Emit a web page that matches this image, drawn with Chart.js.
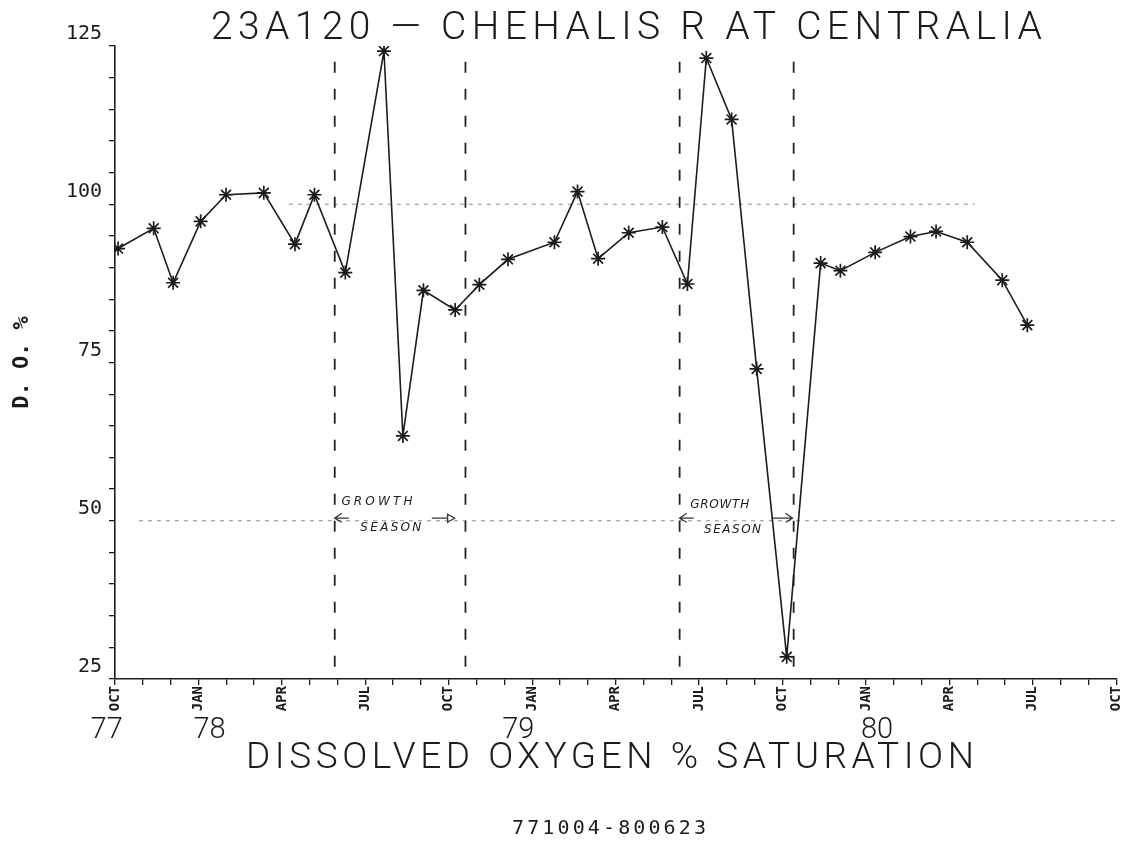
<!DOCTYPE html>
<html>
<head>
<meta charset="utf-8">
<script src="https://cdn.jsdelivr.net/npm/chart.js@4.4.1/dist/chart.umd.min.js"></script>
<style>
  html, body { margin: 0; padding: 0; background: #ffffff; }
  #wrap { width: 1125px; height: 844px; position: relative; }
</style>
</head>
<body>
<div id="wrap"><canvas id="c"></canvas></div>
<script>
// ---------- texts ----------
const chartTitle = '23A120 — CHEHALIS R AT CENTRALIA';
const xAxisTitle = 'DISSOLVED OXYGEN % SATURATION';
const yAxisTitle = 'D. O. %';
const periodCode = '771004-800623';

// ---------- data (x = months after 1 Oct 1977) ----------
const sampleMonth = [0.11, 1.39, 2.09, 3.08, 3.99, 5.35, 6.47, 7.17, 8.28, 9.67,
                     10.35, 11.09, 12.23, 13.10, 14.13, 15.80, 16.63, 17.37, 18.47, 19.68,
                     20.58, 21.26, 22.17, 23.07, 24.15, 25.37, 26.08, 27.33, 28.60, 29.52,
                     30.64, 31.90, 32.80];
const doPercent   = [93.0, 96.2, 87.6, 97.3, 101.5, 101.8, 93.7, 101.5, 89.2, 124.2,
                     63.4, 86.4, 83.3, 87.3, 91.3, 94.0, 102.0, 91.4, 95.5, 96.4,
                     87.4, 123.1, 113.4, 74.0, 28.5, 90.7, 89.5, 92.4, 94.9, 95.7,
                     94.0, 88.0, 80.9];

// ---------- tick labels ----------
const monthTickLabels = ['OCT', 'JAN', 'APR', 'JUL'];      // every third month from Oct 1977
const yearLabels      = ['77', '78', '79', '80'];
const yearLabelMonth  = [-0.3, 3.4, 14.5, 27.4];
const yTickLabels     = [25, 50, 75, 100, 125];

// ---------- reference marks ----------
const growthSeasonBounds = [7.9, 12.6, 20.3, 24.4];          // dashed verticals (months)
const growthLabelWords   = ['GROWTH', 'SEASON'];
const refLevels          = [100, 50];                        // faint dotted levels
const refLevelFrom       = [6.25, 0.86];
const refLevelTo         = [30.9, 36];

const INK = '#1c1c1c';

// ---------- datasets ----------
const seriesPoints = sampleMonth.map((m, i) => ({ x: m, y: doPercent[i] }));

const datasets = [{
  label: 'D.O. % saturation',
  data: seriesPoints,
  borderColor: INK,
  backgroundColor: INK,
  borderWidth: 1.6,
  pointStyle: 'star',
  pointRadius: 7,
  pointBorderWidth: 1.7,
  pointBorderColor: INK,
  tension: 0,
  order: 0
}];

growthSeasonBounds.forEach((m) => {
  datasets.push({
    label: 'season bound',
    data: [{ x: m, y: 122.5 }, { x: m, y: 25 }],
    borderColor: '#222',
    borderWidth: 1.8,
    borderDash: [11, 16],
    pointRadius: 0,
    order: 2
  });
});

refLevels.forEach((lv, i) => {
  datasets.push({
    label: 'level ' + lv,
    data: [{ x: refLevelFrom[i], y: lv }, { x: refLevelTo[i], y: lv }],
    borderColor: '#8a8a8a',
    borderWidth: 1,
    borderDash: [4, 5],
    pointRadius: 0,
    order: 3
  });
});

// ---------- decoration plugin: plotter lettering and hand annotations ----------
const decor = {
  id: 'decor',
  afterDraw(chart) {
    const ctx = chart.ctx;
    const xs = chart.scales.x, ys = chart.scales.y;

    const spaced = (text, font, left, width, midY) => {
      ctx.save();
      ctx.font = font;
      ctx.letterSpacing = '0px';
      const w = ctx.measureText(text).width;
      const n = Array.from(text).length;
      const sp = Math.max(0, (width - w) / (n - 1));
      ctx.letterSpacing = sp.toFixed(2) + 'px';
      ctx.textAlign = 'left';
      ctx.textBaseline = 'middle';
      ctx.fillStyle = INK;
      ctx.fillText(text, left, midY);
      ctx.restore();
    };

    spaced(chartTitle, '300 39px Roboto', 211, 831, 29);
    spaced(xAxisTitle, '300 37px Roboto', 246, 728, 759);
    spaced(periodCode, '20px "DejaVu Sans Mono"', 512, 194, 829);

    // growth season hand labels (data coordinates)
    const notes = [
      { m: 8.14, v: 53.0, w: 71, word: 0 },
      { m: 8.82, v: 48.9, w: 61, word: 1 },
      { m: 20.68, v: 52.5, w: 59, word: 0 },
      { m: 21.18, v: 48.5, w: 57, word: 1 }
    ];
    notes.forEach(n => {
      spaced(growthLabelWords[n.word], 'italic 12px "DejaVu Sans"',
             xs.getPixelForValue(n.m), n.w, ys.getPixelForValue(n.v));
    });

    // arrows
    ctx.save();
    ctx.strokeStyle = '#333';
    ctx.lineWidth = 1.3;
    const yA = ys.getPixelForValue(50.4);
    const leftArrow = (m) => {
      const x = xs.getPixelForValue(m);
      ctx.beginPath();
      ctx.moveTo(x + 14, yA); ctx.lineTo(x, yA);
      ctx.moveTo(x + 7, yA - 5); ctx.lineTo(x, yA); ctx.lineTo(x + 7, yA + 4);
      ctx.stroke();
    };
    const rightArrow = (m0, m1, open) => {
      const x0 = xs.getPixelForValue(m0), x1 = xs.getPixelForValue(m1);
      ctx.beginPath();
      ctx.moveTo(x0, yA); ctx.lineTo(x1 - (open ? 7 : 0), yA);
      if (open) {
        ctx.moveTo(x1 - 7, yA - 4); ctx.lineTo(x1, yA); ctx.lineTo(x1 - 7, yA + 4); ctx.closePath();
      } else {
        ctx.moveTo(x1 - 7, yA - 5); ctx.lineTo(x1, yA); ctx.lineTo(x1 - 7, yA + 4);
      }
      ctx.stroke();
    };
    leftArrow(growthSeasonBounds[0]);
    rightArrow(11.39, 12.21, true);
    leftArrow(growthSeasonBounds[2]);
    rightArrow(23.6, 24.36, false);
    ctx.restore();
  }
};

// ---------- chart ----------
new Chart(document.getElementById('c'), {
  type: 'line',
  data: { datasets },
  plugins: [decor],
  options: {
    responsive: true,
    maintainAspectRatio: false,
    animation: false,
    layout: { padding: { top: 46, right: 2, bottom: 0, left: 0 } },
    plugins: {
      legend: { display: false },
      tooltip: { enabled: false }
    },
    scales: {
      x: {
        type: 'linear',
        position: 'bottom',
        weight: 1,
        min: 0,
        max: 36,
        afterFit: (s) => { s.height = 34; s.paddingLeft = 0; s.paddingRight = 0; },
        grid: { drawOnChartArea: false, drawTicks: true, tickLength: 6, color: INK, lineWidth: 1.3 },
        border: { display: true, color: INK, width: 1.6 },
        ticks: {
          stepSize: 1,
          autoSkip: false,
          maxRotation: 90,
          minRotation: 90,
          padding: 1,
          color: INK,
          font: { family: '"DejaVu Sans Mono"', size: 14, weight: 'bold' },
          callback: (v) => {
            const k = Math.round(v);
            return k % 3 === 0 ? monthTickLabels[(k / 3) % 4] : '';
          }
        }
      },
      xYear: {
        type: 'linear',
        position: 'bottom',
        weight: 2,
        min: 0,
        max: 36,
        afterFit: (s) => { s.height = 131; s.paddingLeft = 0; s.paddingRight = 0; },
        afterBuildTicks: (s) => { s.ticks = yearLabelMonth.map(v => ({ value: v })); },
        grid: { display: false, drawTicks: false },
        border: { display: false },
        ticks: {
          autoSkip: false,
          maxRotation: 0,
          minRotation: 0,
          padding: 0,
          color: INK,
          font: { family: 'Roboto', size: 29, weight: '300' },
          callback: (v, i) => yearLabels[i]
        }
      },
      y: {
        type: 'linear',
        min: 25,
        max: 125,
        afterFit: (s) => { s.width = 115; },
        grid: { drawOnChartArea: false, drawTicks: true, tickLength: 6, color: INK, lineWidth: 1.3 },
        border: { display: true, color: INK, width: 1.6 },
        title: {
          display: true,
          text: yAxisTitle,
          color: INK,
          font: { family: '"DejaVu Sans Mono"', size: 22, weight: 'bold' },
          padding: { top: 9, bottom: 0 }
        },
        ticks: {
          stepSize: 5,
          padding: 7,
          labelOffset: -12,
          color: INK,
          font: { family: '"DejaVu Sans Mono"', size: 20 },
          callback: (v) => (yTickLabels.includes(v) ? String(v) : '')
        }
      }
    }
  }
});
</script>
</body>
</html>
